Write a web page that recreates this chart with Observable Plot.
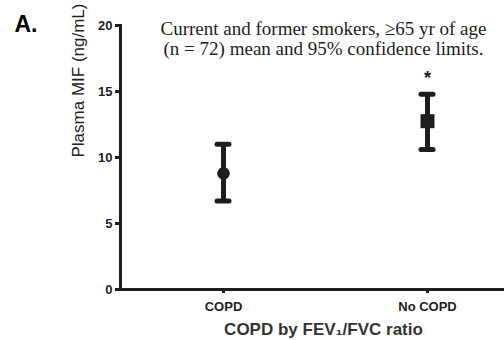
<!DOCTYPE html>
<html>
<head>
<meta charset="utf-8">
<script src="https://cdn.jsdelivr.net/npm/d3@7"></script>
<script src="https://cdn.jsdelivr.net/npm/@observablehq/plot@0.6"></script>
<style>
  html, body { margin: 0; padding: 0; background: #fff; }
  #chart { width: 504px; height: 340px; }
  #chart g[aria-label="y-axis tick"], #chart g[aria-label="x-axis tick"] { stroke-width: 3px; }
  #chart g[aria-label="y-axis tick"] path, #chart g[aria-label="x-axis tick"] path { stroke-width: 3px; }
</style>
</head>
<body>
<div id="chart"></div>
<script>
const groups = ["COPD", "No COPD"];
const means = [8.8, 12.75];
const lower = [6.7, 10.6];
const upper = [11.0, 14.8];
const significance = ["", "*"];
const yTicks = [0, 5, 10, 15, 20];
const panelLabel = "A.";
const yLabel = "Plasma MIF (ng/mL)";
const xLabel = "COPD by FEV\u2081/FVC ratio";
const note = "Current and former smokers, \u226565 yr of age\n(n = 72) mean and 95% confidence limits.";

const data = groups.map((g, i) => ({group: g, mean: means[i], lo: lower[i], hi: upper[i], sig: significance[i]}));
const ink = "#1e1e1e";

const chart = Plot.plot({
  width: 504,
  height: 340,
  marginLeft: 120,
  marginRight: 0,
  marginTop: 25,
  marginBottom: 51,
  style: {color: ink, background: "#fff", fontFamily: "Liberation Sans, Arial, sans-serif"},
  x: {type: "point", domain: groups, range: [223, 427], padding: 0},
  y: {domain: [0, 20]},
  marks: [
    Plot.frame({anchor: "left", stroke: ink, strokeWidth: 3}),
    Plot.ruleY([0], {stroke: ink, strokeWidth: 3}),
    Plot.axisY({ticks: yTicks, tickSize: 5, tickPadding: 3, strokeWidth: 3, fontSize: 13, fontWeight: "bold", label: null}),
    Plot.axisX({tickSize: 4, tickPadding: 8, strokeWidth: 3, fontSize: 13, fontWeight: "bold", label: null}),
    Plot.ruleX(data, {x: "group", y1: "lo", y2: "hi", stroke: ink, strokeWidth: 5}),
    Plot.ruleY(data, {x1: "group", x2: "group", y: "lo", insetLeft: -6, insetRight: -6, stroke: ink, strokeWidth: 5, strokeLinecap: "round"}),
    Plot.ruleY(data, {x1: "group", x2: "group", y: "hi", insetLeft: -6, insetRight: -6, stroke: ink, strokeWidth: 5, strokeLinecap: "round"}),
    Plot.dot(data.filter(d => d.group === "COPD"), {x: "group", y: "mean", r: 6.3, fill: ink, symbol: "circle"}),
    Plot.dot(data.filter(d => d.group === "No COPD"), {x: "group", y: "mean", r: 7.9, fill: ink, symbol: "square"}),
    Plot.text(data, {x: "group", y: "hi", text: "sig", dy: -10, lineAnchor: "bottom", fontSize: 18, fontWeight: "bold", fill: ink}),
    Plot.text([note], {frameAnchor: "top", dx: 11, dy: -5, lineAnchor: "top", lineHeight: 1.06, fontSize: 19, fontFamily: "Liberation Serif, Times New Roman, serif", fill: ink}),
    Plot.text([yLabel], {frameAnchor: "left", dx: -42, rotate: -90, fontSize: 17, fill: "#222"}),
    Plot.text([xLabel], {frameAnchor: "bottom", dx: 11, dy: 40, lineAnchor: "middle", fontSize: 17, fontWeight: "bold", fill: "#333"}),
    Plot.text([panelLabel], {frameAnchor: "top-left", dx: -106, dy: 6, lineAnchor: "bottom", textAnchor: "start", fontSize: 23, fontWeight: "bold", fill: "#000"})
  ]
});
document.getElementById("chart").appendChild(chart);
</script>
</body>
</html>
